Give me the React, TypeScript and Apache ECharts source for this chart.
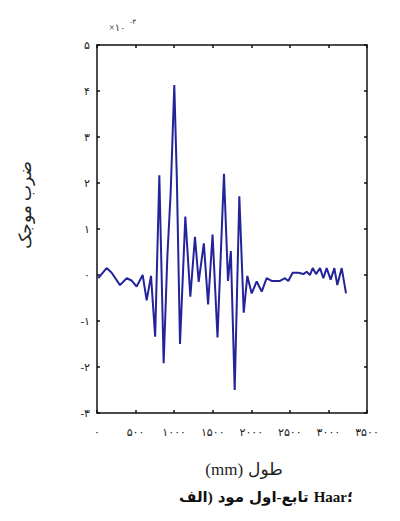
import React, { useEffect, useRef } from "react";
import * as echarts from "echarts";

// Position along the member (mm)
const positions: number[] = [
  17, 125, 190, 298, 385, 449, 514, 592, 644, 700, 754, 808, 864, 912, 955,
  1002, 1035, 1076, 1145, 1210, 1270, 1318, 1385, 1440, 1498, 1562, 1646,
  1698, 1735, 1785, 1845, 1902, 1949, 2005, 2070, 2135, 2199, 2264, 2372,
  2437, 2480, 2536, 2610, 2675, 2718, 2761, 2796, 2839, 2891, 2934, 2977,
  3029, 3077, 3115, 3172, 3228,
];
// Wavelet coefficient (x 10^-3)
const coefficients: number[] = [
  -0.07, 0.15, 0.05, -0.22, -0.07, -0.12, -0.25, 0.0, -0.55, -0.02, -1.34,
  2.17, -1.92, 0.4, 1.8, 4.13, 2.1, -1.5, 1.27, -0.47, 0.83, -0.15, 0.69,
  -0.64, 0.88, -1.36, 2.2, -0.13, 0.52, -2.5, 1.71, -0.82, -0.02, -0.4,
  -0.14, -0.36, -0.07, -0.13, -0.13, -0.07, -0.13, 0.05, 0.05, 0.02, 0.07,
  0.0, 0.15, 0.02, 0.15, -0.07, 0.15, -0.1, 0.15, -0.22, 0.15, -0.4,
];

const xMin = 0;
const xMax = 3500;
const xStep = 500;
const yMin = -3;
const yMax = 5;
const yStep = 1;

const yAxisTitle = "ضرب موجک";
// visual left-to-right pieces of the axis title and caption
const xAxisTitleParts = ["(mm)", " ", "طول"];
const captionParts = ["الف", ")", " ", "مود", " ", "اول", "-", "تابع", " ", "Haar", "؛"];
const exponentBase = "×۱۰";
const exponentPow = "-۳";

const faDigits = "۰۱۲۳۴۵۶۷۸۹";
const toFa = (v: number): string => {
  const s = String(Math.abs(Math.round(v)))
    .split("")
    .map((c) => (c >= "0" && c <= "9" ? faDigits[Number(c)] : c))
    .join("");
  return v < 0 ? "-" + s : s;
};

const FONT = "'Liberation Serif', 'DejaVu Sans', serif";

const richText = (parts: string[]) =>
  parts.map((p) => (p === " " ? "{s| }" : "{t|" + p + "}")).join("");

export default function App() {
  const ref = useRef<HTMLDivElement>(null);
  useEffect(() => {
    if (!ref.current) return;
    const chart = echarts.init(ref.current, undefined, { renderer: "svg" });
    const data = positions.map((x, i) => [x, coefficients[i]]);
    const axisLine = { show: true, onZero: false, lineStyle: { color: "#111", width: 1.5 } };
    const tick = { show: true, inside: true, length: 3, lineStyle: { color: "#111", width: 1.5 } };
    chart.setOption({
      animation: false,
      backgroundColor: "#ffffff",
      grid: { left: 97, right: 33, top: 45, bottom: 108, containLabel: false },
      xAxis: [
        {
          type: "value",
          position: "bottom",
          min: xMin,
          max: xMax,
          interval: xStep,
          axisLine,
          axisTick: tick,
          splitLine: { show: false },
          axisLabel: {
            formatter: (v: number) => toFa(v),
            color: "#222",
            fontSize: 11,
            fontFamily: FONT,
            margin: 13,
          },
        },
        {
          type: "value",
          position: "top",
          min: xMin,
          max: xMax,
          interval: xStep,
          axisLine,
          axisTick: tick,
          splitLine: { show: false },
          axisLabel: { show: false },
        },
      ],
      yAxis: [
        {
          type: "value",
          position: "left",
          min: yMin,
          max: yMax,
          interval: yStep,
          axisLine,
          axisTick: tick,
          splitLine: { show: false },
          axisLabel: {
            formatter: (v: number) => toFa(v),
            color: "#222",
            fontSize: 11,
            fontFamily: FONT,
            margin: 7,
          },
        },
        {
          type: "value",
          position: "right",
          min: yMin,
          max: yMax,
          interval: yStep,
          axisLine,
          axisTick: tick,
          splitLine: { show: false },
          axisLabel: { show: false },
        },
      ],
      series: [
        {
          type: "line",
          data,
          xAxisIndex: 0,
          yAxisIndex: 0,
          showSymbol: false,
          symbol: "none",
          lineStyle: { color: "#24249a", width: 2 },
          z: 3,
        },
      ],
      graphic: [
        {
          type: "text",
          x: 109,
          y: 27,
          style: {
            text: exponentBase,
            fontSize: 10,
            fontFamily: FONT,
            fill: "#333",
            textAlign: "left",
            textVerticalAlign: "middle",
          },
        },
        {
          type: "text",
          x: 130,
          y: 22,
          style: {
            text: exponentPow,
            fontSize: 7,
            fontFamily: FONT,
            fill: "#333",
            textAlign: "left",
            textVerticalAlign: "middle",
          },
        },
        {
          type: "text",
          x: 25,
          y: 205,
          rotation: Math.PI / 2,
          style: {
            text: yAxisTitle,
            fontSize: 17,
            fontFamily: FONT,
            fill: "#222",
            textAlign: "center",
            textVerticalAlign: "middle",
          },
        },
        {
          type: "text",
          x: 244,
          y: 469,
          style: {
            text: richText(xAxisTitleParts),
            fontSize: 17,
            fontFamily: FONT,
            fill: "#222",
            textAlign: "center",
            textVerticalAlign: "middle",
            rich: {
              t: { fontSize: 17, fontFamily: FONT, color: "#222" },
              s: { fontSize: 17, fontFamily: FONT, width: 5 },
            },
          },
        },
        {
          type: "text",
          x: 266,
          y: 497,
          style: {
            text: richText(captionParts),
            fontSize: 15,
            fontWeight: "bold",
            fontFamily: FONT,
            fill: "#111",
            textAlign: "center",
            textVerticalAlign: "middle",
            rich: {
              t: { fontSize: 15, fontWeight: "bold", fontFamily: FONT, color: "#111" },
              s: { fontSize: 15, fontFamily: FONT, width: 5 },
            },
          },
        },
      ],
    });
    return () => chart.dispose();
  }, []);
  return (
    <div
      ref={ref}
      style={{ position: "fixed", left: 0, top: 0, width: 400, height: 521 }}
    />
  );
}
